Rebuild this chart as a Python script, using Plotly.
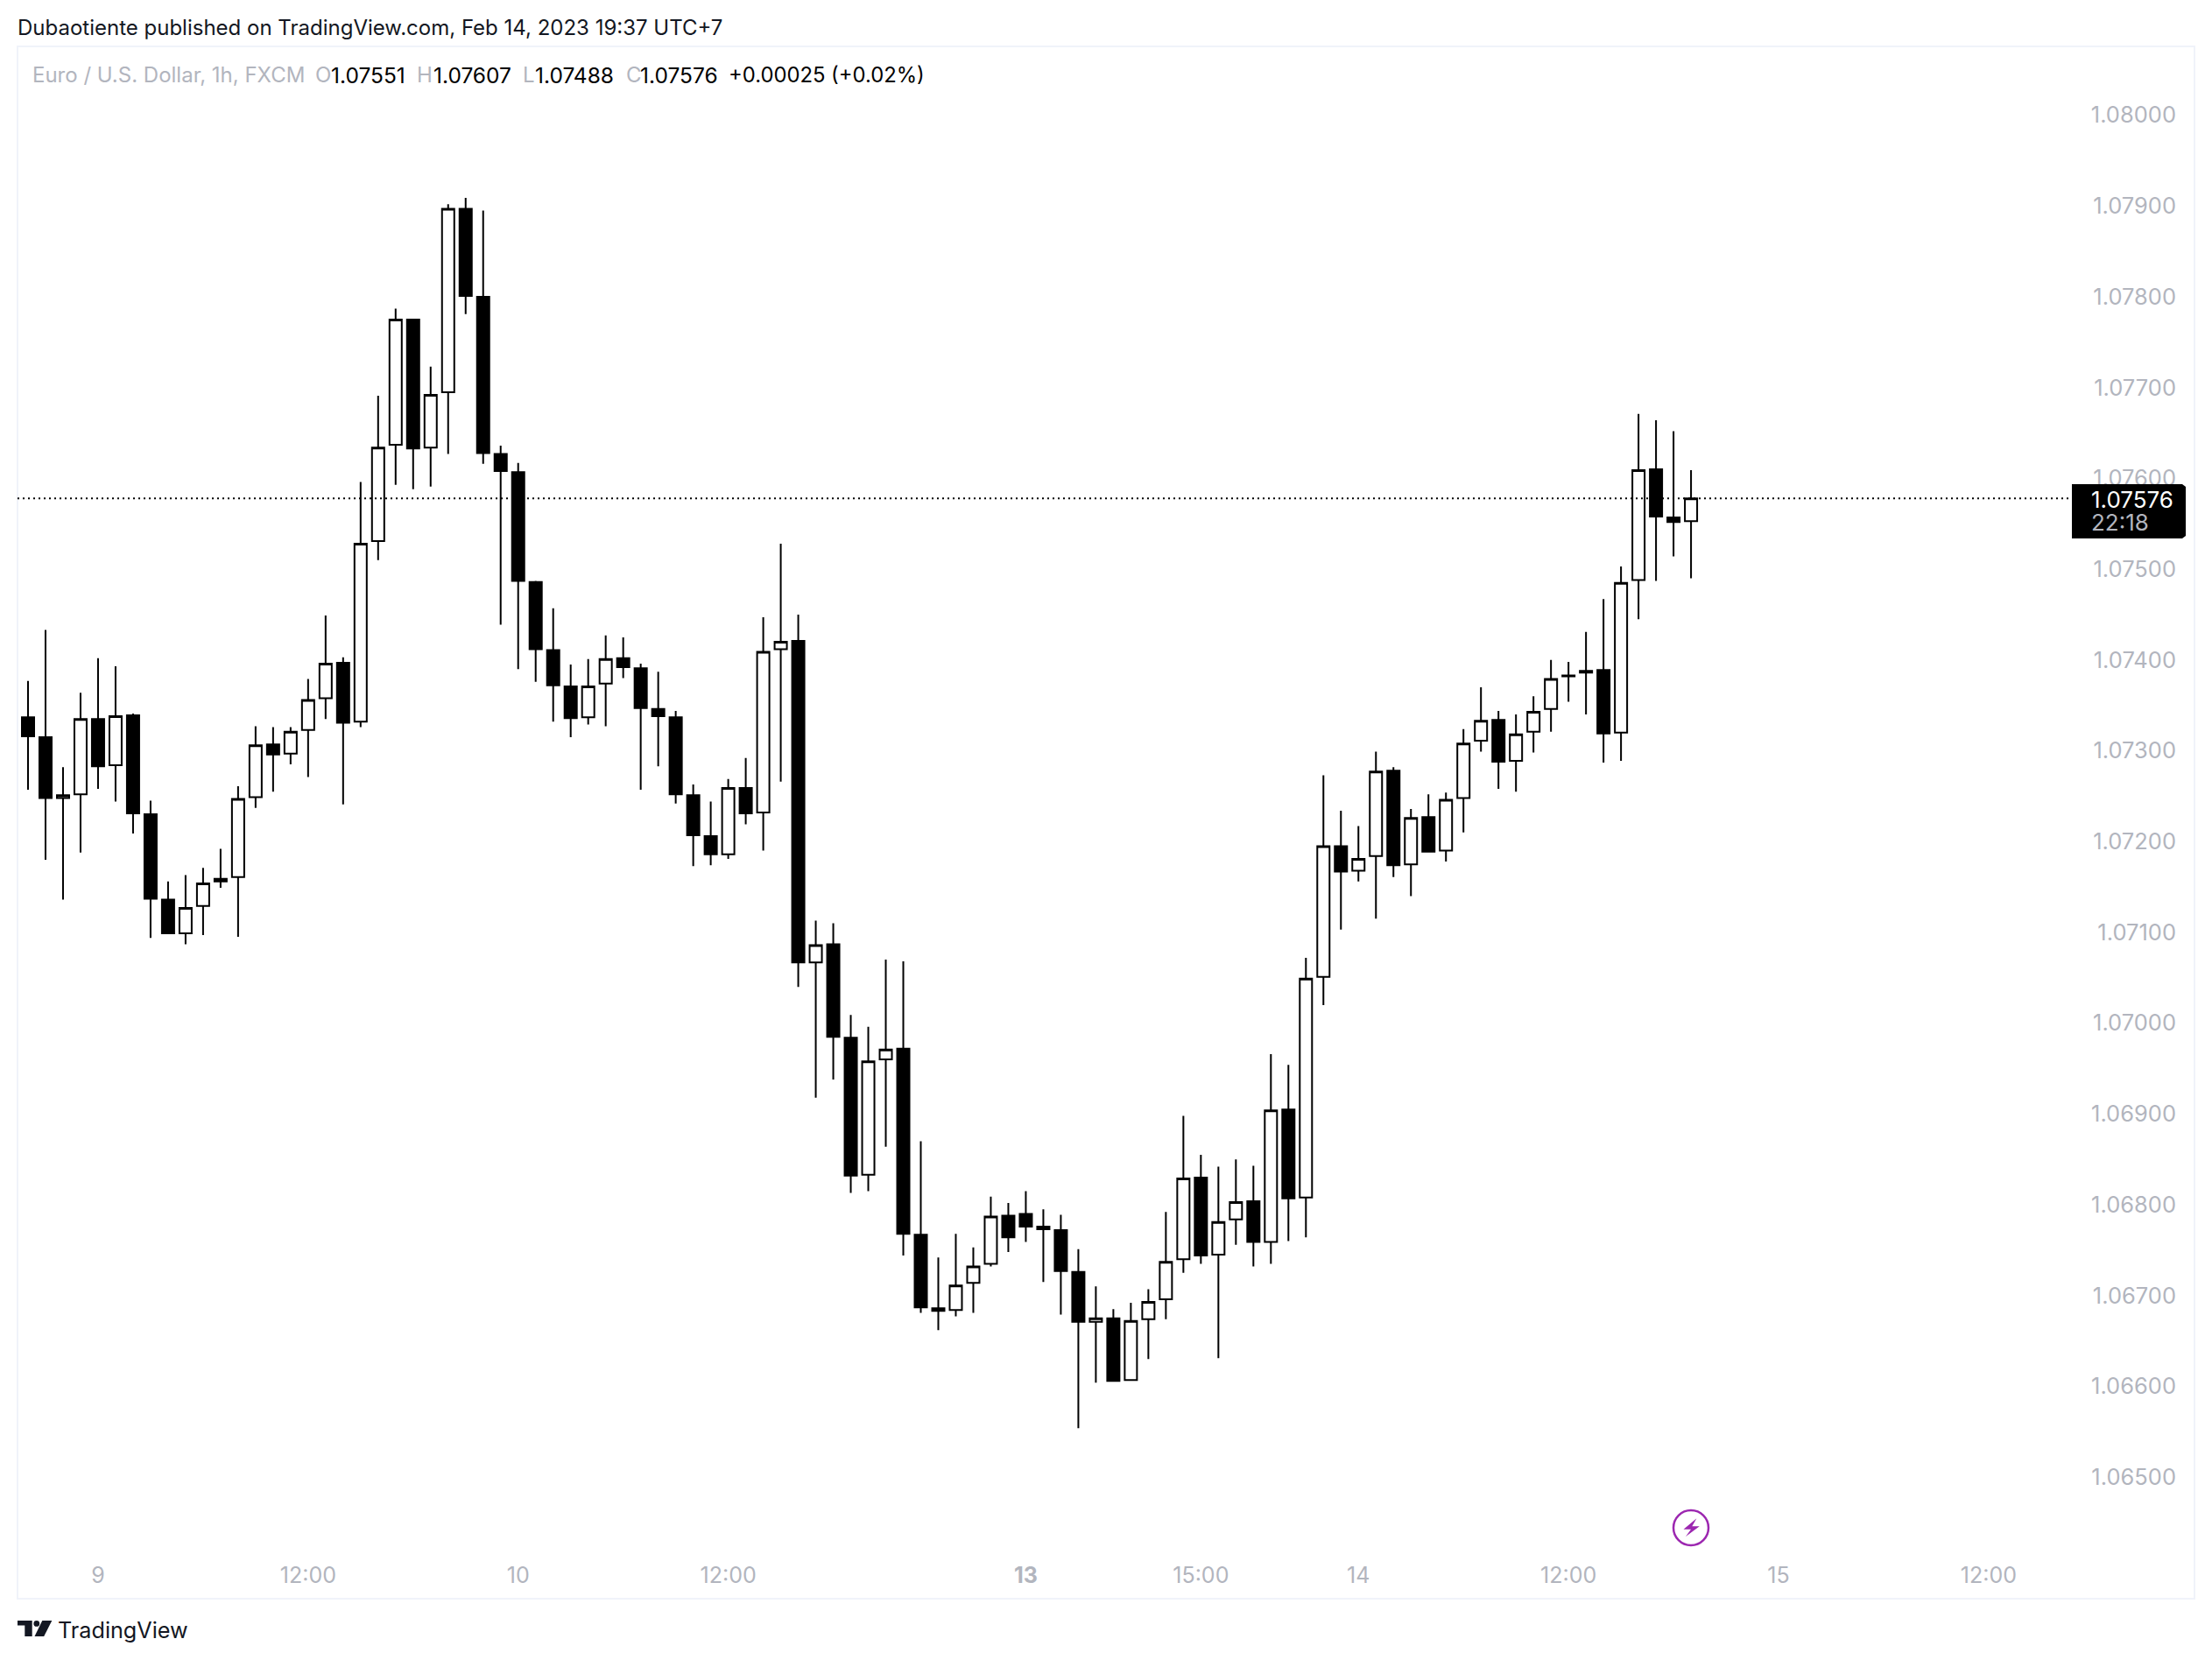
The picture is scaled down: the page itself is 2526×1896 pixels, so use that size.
import plotly.graph_objects as go

# ---------- chart data ----------
opens = [1.07335,1.07313,1.07246,1.07250,1.07333,1.07282,1.07337,1.07228,1.07134,1.07097,
         1.07127,1.07154,1.07159,1.07247,1.07305,1.07295,1.07321,1.07356,1.07395,1.07330,
         1.07529,1.07635,1.07773,1.07632,1.07693,1.07895,1.07798,1.07625,1.07605,1.07484,
         1.07409,1.07369,1.07335,1.07372,1.07400,1.07389,1.07344,1.07335,1.07249,1.07204,
         1.07184,1.07257,1.07230,1.07410,1.07419,1.07065,1.07085,1.06982,1.06831,1.06958,
         1.06970,1.06765,1.06684,1.06682,1.06712,1.06733,1.06786,1.06788,1.06774,1.06770,
         1.06724,1.06669,1.06673,1.06605,1.06672,1.06694,1.06738,1.06828,1.06743,1.06782,
         1.06802,1.06757,1.06903,1.06806,1.07049,1.07193,1.07166,1.07182,1.07276,1.07173,
         1.07225,1.07188,1.07246,1.07309,1.07332,1.07287,1.07319,1.07344,1.07380,1.07384,
         1.07387,1.07318,1.07486,1.07608,1.07555,1.07551]
closes = [1.07314,1.07246,1.07249,1.07333,1.07281,1.07336,1.07229,1.07135,1.07097,1.07125,
          1.07152,1.07157,1.07245,1.07304,1.07294,1.07319,1.07354,1.07394,1.07329,1.07526,
          1.07632,1.07773,1.07631,1.07690,1.07895,1.07799,1.07626,1.07606,1.07485,1.07410,
          1.07370,1.07334,1.07369,1.07399,1.07390,1.07345,1.07336,1.07250,1.07205,1.07184,
          1.07257,1.07229,1.07407,1.07418,1.07065,1.07084,1.06983,1.06830,1.06956,1.06969,
          1.06766,1.06685,1.06681,1.06709,1.06730,1.06785,1.06762,1.06774,1.06771,1.06725,
          1.06669,1.06673,1.06604,1.06670,1.06691,1.06735,1.06827,1.06742,1.06779,1.06801,
          1.06757,1.06902,1.06805,1.07047,1.07193,1.07165,1.07179,1.07275,1.07172,1.07224,
          1.07187,1.07244,1.07306,1.07331,1.07286,1.07316,1.07341,1.07377,1.07381,1.07386,
          1.07317,1.07483,1.07607,1.07556,1.07550,1.07576]
highs = [1.07375,1.07431,1.07280,1.07362,1.07400,1.07391,1.07339,1.07243,1.07154,1.07161,
         1.07169,1.07190,1.07259,1.07325,1.07324,1.07324,1.07377,1.07447,1.07401,1.07594,
         1.07689,1.07785,1.07774,1.07721,1.07900,1.07907,1.07893,1.07634,1.07615,1.07485,
         1.07455,1.07393,1.07399,1.07425,1.07423,1.07394,1.07385,1.07342,1.07261,1.07242,
         1.07267,1.07290,1.07445,1.07526,1.07448,1.07111,1.07108,1.07007,1.06994,1.07068,
         1.07066,1.06868,1.06740,1.06766,1.06751,1.06807,1.06800,1.06813,1.06793,1.06787,
         1.06749,1.06708,1.06683,1.06690,1.06705,1.06790,1.06896,1.06853,1.06840,1.06848,
         1.06841,1.06964,1.06952,1.07070,1.07271,1.07232,1.07215,1.07297,1.07280,1.07234,
         1.07250,1.07252,1.07322,1.07368,1.07342,1.07338,1.07358,1.07398,1.07396,1.07429,
         1.07465,1.07501,1.07669,1.07662,1.07650,1.07607]
lows = [1.07255,1.07178,1.07134,1.07186,1.07256,1.07242,1.07207,1.07092,1.07096,1.07085,
        1.07095,1.07147,1.07093,1.07235,1.07253,1.07283,1.07269,1.07333,1.07239,1.07324,
        1.07508,1.07591,1.07586,1.07589,1.07625,1.07779,1.07614,1.07437,1.07388,1.07374,
        1.07330,1.07313,1.07327,1.07325,1.07378,1.07255,1.07281,1.07240,1.07171,1.07172,
        1.07179,1.07217,1.07188,1.07264,1.07038,1.06916,1.06936,1.06811,1.06813,1.06862,
        1.06742,1.06679,1.06660,1.06675,1.06679,1.06730,1.06746,1.06757,1.06713,1.06677,
        1.06552,1.06602,1.06603,1.06604,1.06628,1.06672,1.06723,1.06733,1.06629,1.06754,
        1.06730,1.06733,1.06758,1.06762,1.07018,1.07101,1.07154,1.07113,1.07159,1.07138,
        1.07186,1.07176,1.07208,1.07297,1.07256,1.07253,1.07296,1.07319,1.07352,1.07338,
        1.07285,1.07287,1.07443,1.07485,1.07512,1.07488]
bar_index = list(range(len(opens)))

x_tick_positions = [4, 16, 28, 40, 57, 67, 76, 88, 100, 112]
x_tick_labels = ["9", "12:00", "10", "12:00", "<b>13</b>", "15:00", "14", "12:00", "15", "12:00"]
y_tick_values = [1.065, 1.066, 1.067, 1.068, 1.069, 1.070, 1.071, 1.072,
                 1.073, 1.074, 1.075, 1.076, 1.077, 1.078, 1.079, 1.080]

last_price = 1.07576
countdown = "22:18"
headline = "Dubaotiente published on TradingView.com, Feb 14, 2023 19:37 UTC+7"
symbol_title = "Euro / U.S. Dollar, 1h, FXCM"
ohlc_names = ["O", "H", "L", "C"]
ohlc_values = ["1.07551", "1.07607", "1.07488", "1.07576"]
change_text = "+0.00025 (+0.02%)"
brand = "TradingView"

# ---------- layout constants (page pixels; the page body has an 8px margin) ----------
W, H = 2526, 1896
PAGE = 8
L, R, T, B = 20, 2506, 53, 1826
FONT = "Inter"
GREY = "#B2B5BE"
INK = "#131722"
BORDER = "#F0F3FA"

def xp(x):
    return (x - L) / (R - L)

def yp(y):
    return (B - y) / (B - T)

def poly(points):
    return "M" + " L".join(f"{xp(x):.6f},{yp(y):.6f}" for x, y in points) + " Z"

def label(text, x, y, size, color, anchor="left"):
    return dict(text=text, x=xp(x), y=yp(y), xref="paper", yref="paper", showarrow=False,
                xanchor=anchor, yanchor="middle", align="left",
                font=dict(family=FONT, size=size, color=color))

fig = go.Figure(go.Candlestick(
    x=bar_index, open=opens, high=highs, low=lows, close=closes,
    increasing=dict(fillcolor="#FFFFFF", line=dict(color="#000000", width=2)),
    decreasing=dict(fillcolor="#000000", line=dict(color="#000000", width=2)),
    whiskerwidth=0, showlegend=False, hoverinfo="skip",
))

shapes = [
    # chart frame
    dict(type="rect", xref="paper", yref="paper", x0=0, x1=1, y0=0, y1=1,
         line=dict(color=BORDER, width=2), fillcolor="rgba(0,0,0,0)", layer="below"),
    # last price line
    dict(type="line", xref="paper", yref="y", x0=0, x1=xp(2366), y0=last_price, y1=last_price,
         line=dict(color="#000000", width=2, dash="2px,4px"), layer="above"),
    # last price tag
    dict(type="path", xref="paper", yref="paper",
         path=poly([(2366, 553), (2492, 553), (2496, 556), (2496, 612), (2492, 615), (2366, 615)]),
         fillcolor="#000000", line=dict(width=0), layer="above"),
    # lightning badge
    dict(type="circle", xref="paper", yref="paper",
         x0=xp(1931 - 20), x1=xp(1931 + 20), y0=yp(1745 + 20), y1=yp(1745 - 20),
         line=dict(color="#9C27B0", width=2.5), fillcolor="rgba(0,0,0,0)"),
    dict(type="path", xref="paper", yref="paper",
         path=poly([(1937.4, 1734.3), (1922.5, 1746.7), (1931, 1746.7), (1925, 1755),
                    (1940.8, 1743.3), (1932.3, 1743.3)]),
         fillcolor="#9C27B0", line=dict(width=0)),
    # brand mark
    dict(type="path", xref="paper", yref="paper",
         path=poly([(20, 1851), (36.7, 1851), (36.7, 1869), (28.3, 1869), (28.3, 1856.5), (20, 1856.5)]),
         fillcolor=INK, line=dict(width=0)),
    dict(type="circle", xref="paper", yref="paper",
         x0=xp(38.4), x1=xp(45.2), y0=yp(1857.8), y1=yp(1851), fillcolor=INK, line=dict(width=0)),
    dict(type="path", xref="paper", yref="paper",
         path=poly([(48.3, 1851), (59.3, 1851), (50.2, 1869), (39.5, 1869)]),
         fillcolor=INK, line=dict(width=0)),
]

annotations = [
    label(headline, 18, 31.5, 24, INK),
    label(symbol_title, 35, 86, 24, GREY),
    label(change_text, 830, 86, 23.8, "#000000"),
    label(f"{last_price:.5f}", 2386, 570, 26, "#FFFFFF"),
    label(countdown, 2386, 597, 26, "#B2B5BE"),
    label(brand, 64, 1862, 25.2, INK),
]
for name, nx, value, vx in zip(ohlc_names, [358, 474, 595, 713], ohlc_values, [376, 493, 609, 729]):
    annotations.append(label(name, nx, 86, 24, GREY))
    annotations.append(label(value, vx, 86, 24.5, "#000000"))

fig.update_layout(
    width=W - 2 * PAGE, height=H - 2 * PAGE, autosize=False,
    margin=dict(l=L - PAGE, r=W - PAGE - R, t=T - PAGE, b=H - PAGE - B, pad=0),
    paper_bgcolor="#FFFFFF", plot_bgcolor="#FFFFFF",
    font=dict(family=FONT, color=GREY, size=25),
    boxgap=0.3, boxgroupgap=0,
    showlegend=False, shapes=shapes, annotations=annotations, hovermode=False,
    xaxis=dict(range=[-0.60, 123.76], rangeslider=dict(visible=False), showgrid=False,
               zeroline=False, showline=False, ticks="", tickmode="array",
               tickvals=x_tick_positions, ticktext=x_tick_labels,
               ticklabelposition="inside", ticklabelstandoff=10,
               tickfont=dict(family=FONT, size=25, color=GREY)),
    yaxis=dict(range=[1.063641, 1.080738], side="right", showgrid=False, zeroline=False,
               showline=False, ticks="", tickmode="array", tickvals=y_tick_values,
               ticktext=[f"{v:.5f}" for v in y_tick_values],
               ticklabelposition="inside", ticklabelstandoff=18, ticklabelshift=2,
               tickfont=dict(family=FONT, size=25.5, color=GREY)),
)

fig.write_html("out.html", config=dict(displayModeBar=False))
